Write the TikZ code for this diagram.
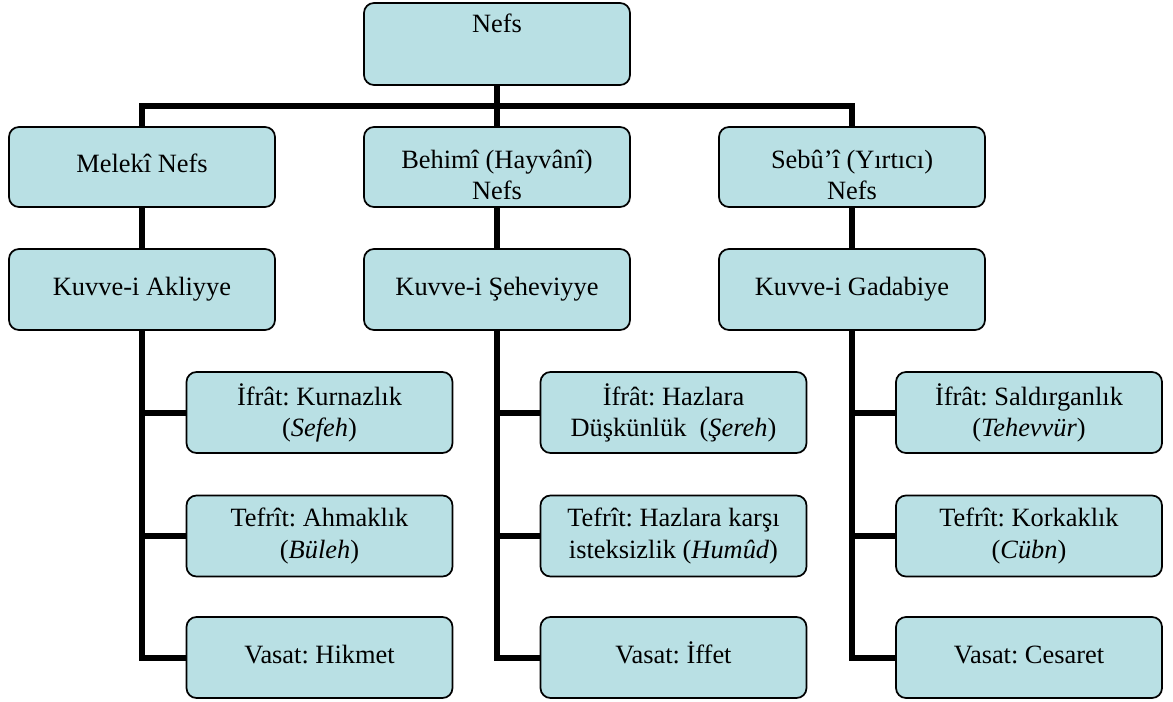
\documentclass[tikz,border=0pt]{standalone}
\usepackage{fontspec}
\setmainfont{Liberation Serif}
\frenchspacing
\definecolor{boxfill}{RGB}{185,224,228}
\begin{document}
\begin{tikzpicture}[x=0.75pt,y=-0.75pt,
  box/.style={draw=black, line width=1.3pt, fill=boxfill, rounded corners=7.5pt,
    minimum width=199.5pt, minimum height=60.75pt, inner sep=0pt, align=center,
    font=\fontsize{19.8pt}{23.3pt}\selectfont},
  oneline/.style={text height=13.9pt, text depth=5pt},
  conn/.style={line width=4.5pt, black},
]
\useasboundingbox (0,0) rectangle (1173,702);

% top node, text set near its upper edge
\node[box, text height=13.9pt, text depth=30.4pt, inner ysep=8.6pt] (nefs) at (497,44) {Nefs};

% the three kinds of soul
\node[box, oneline, minimum height=60pt] (mel) at (142,167) {Melekî Nefs};
\node[box, minimum height=60pt] (beh) at (497,167) {\rule{0pt}{25pt}Behimî (Hayvânî)\\Nefs};
\node[box, minimum height=60pt] (seb) at (852,167) {\rule{0pt}{25pt}Sebû’î (Yırtıcı)\\Nefs};

% their faculties
\node[box, oneline] (akl) at (142,289.5) {Kuvve-i Akliyye};
\node[box, oneline] (seh) at (497,289.5) {Kuvve-i Şeheviyye};
\node[box, oneline] (gad) at (852,289.5) {Kuvve-i Gadabiye};

% excess, deficiency and the mean
\node[box] (kur) at (319.5,412.5) {İfrât: Kurnazlık\\(\textit{Sefeh})};
\node[box] (bul) at (319.5,536) {Tefrît: Ahmaklık\\(\textit{Büleh})};
\node[box, oneline] (hik) at (319.5,657.5) {Vasat: Hikmet};

\node[box] (sre) at (673.5,412.5) {İfrât: Hazlara\\Düşkünlük~ (\textit{Şereh})};
\node[box] (hum) at (673.5,536) {Tefrît: Hazlara karşı\\isteksizlik (\textit{Humûd})};
\node[box, oneline] (iff) at (673.5,657.5) {Vasat: İffet};

\node[box] (teh) at (1029,412.5) {İfrât: Saldırganlık\\(\textit{Tehevvür})};
\node[box] (cub) at (1029,536) {Tefrît: Korkaklık\\(\textit{Cübn})};
\node[box, oneline] (ces) at (1029,657.5) {Vasat: Cesaret};

% connectors
\coordinate (bus) at (497,106);
\draw[conn] (nefs.south) -- (bus);
\draw[conn] (mel.north) |- (bus) -| (seb.north);
\draw[conn] (bus) -- (beh.north);

\draw[conn] (mel.south) -- (akl.north);
\draw[conn] (beh.south) -- (seh.north);
\draw[conn] (seb.south) -- (gad.north);

\draw[conn] (akl.south) |- (hik.west);
\draw[conn] (akl.south |- kur.west) -- (kur.west);
\draw[conn] (akl.south |- bul.west) -- (bul.west);

\draw[conn] (seh.south) |- (iff.west);
\draw[conn] (seh.south |- sre.west) -- (sre.west);
\draw[conn] (seh.south |- hum.west) -- (hum.west);

\draw[conn] (gad.south) |- (ces.west);
\draw[conn] (gad.south |- teh.west) -- (teh.west);
\draw[conn] (gad.south |- cub.west) -- (cub.west);
\end{tikzpicture}
\end{document}
